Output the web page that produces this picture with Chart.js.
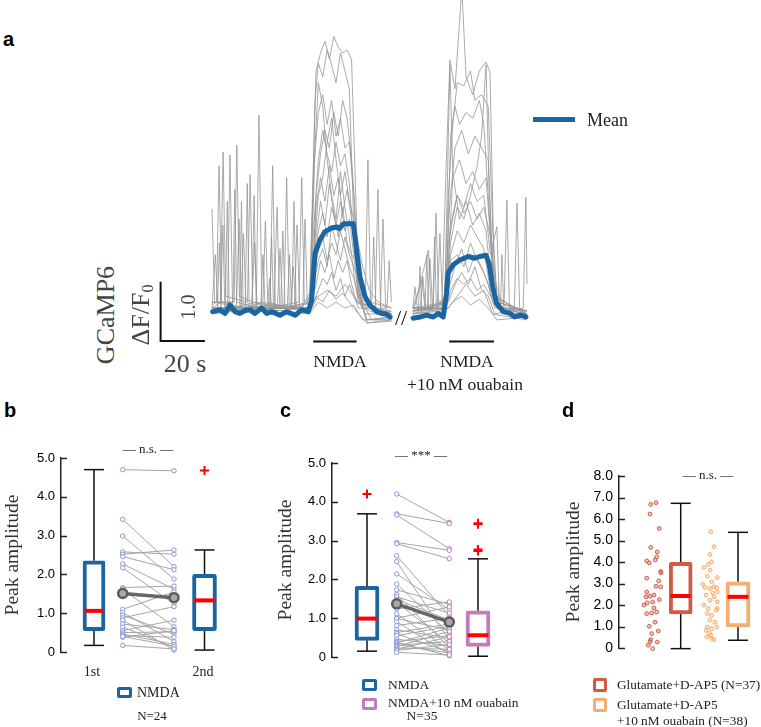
<!DOCTYPE html>
<html><head><meta charset="utf-8">
<script src="https://cdn.jsdelivr.net/npm/chart.js@4.4.0/dist/chart.umd.min.js"></script>
<style>
html,body{margin:0;padding:0;background:#fff;}
body{width:761px;height:727px;position:relative;overflow:hidden;}
canvas{position:absolute;}
.ico{position:absolute;box-sizing:border-box;background:#fff;border-radius:2px;}
</style></head><body>
<script>
// ---------------- DATA ----------------
// Panel a: GCaMP6 traces, [time (s), dF/F0] pairs. Segment 1 (NMDA), segment 2 (NMDA + ouabain, time from its own start)
const seg1Traces = [
 [0,0.1, 10,0.08, 20,0.15, 21.2,3.35, 22.5,0.2, 35,0.1, 44,0.2, 45.5,2.2, 47,4.1, 49,4.4, 51,4.6, 53,4.3, 55,4.68, 57,4.5, 59,4.4, 61,4.45, 63,4.3, 64.5,2.5, 66,0.6, 68,0.1, 75,0.0, 81,0.05],
 [0,0.15, 2,0.2, 3.2,2.5, 4.4,0.2, 15,0.1, 26.2,0.15, 27.4,2.5, 28.6,0.1, 40,0.1, 44.5,0.3, 46.5,3.6, 48,4.23, 50,4.0, 52,4.46, 54,4.2, 56,3.9, 58,4.4, 60,4.1, 62,3.8, 64,1.5, 66,0.3, 70,-0.1, 81,-0.05],
 [0,0.1, 3.8,0.2, 5.0,2.73, 6.2,0.3, 16,0.2, 17.2,2.35, 18.4,0.2, 30,0.1, 44,0.1, 46,2.5, 48,3.4, 50,3.7, 52,3.2, 54,3.6, 56,3.0, 58,3.3, 60,2.8, 62,2.9, 64,2.0, 66,0.5, 69,0.0, 81,0.0],
 [0,0.05, 7,0.1, 8.1,2.68, 9.3,0.1, 20,0.2, 32.5,0.1, 33.7,2.3, 34.9,0.1, 44,0.05, 46,1.5, 48,2.6, 50,3.1, 52,2.7, 54,2.4, 56,2.9, 58,2.5, 60,2.7, 62,2.2, 64,1.2, 66,0.4, 70,-0.15, 81,-0.1],
 [0,0.2, 10,0.2, 11.2,2.85, 12.4,0.3, 25,0.1, 39.3,0.2, 40.5,2.3, 41.7,0.2, 45,0.4, 47,1.8, 49,2.3, 51,1.9, 53,2.5, 55,2.0, 57,2.3, 59,1.7, 61,2.1, 63,1.6, 65,0.8, 67,0.2, 81,0.0],
 [0,1.77, 1.2,0.2, 14,0.1, 23,0.2, 24.1,1.57, 25.2,0.2, 35,0.1, 44,0.1, 46,0.8, 48,1.4, 50,1.7, 52,1.3, 54,1.8, 56,1.5, 58,1.9, 60,1.4, 62,1.6, 64,1.0, 66,0.3, 70,-0.1, 81,-0.05],
 [0,0.1, 13,0.1, 14.2,1.35, 15.4,0.1, 30,0.15, 44,0.1, 46,0.6, 48,1.1, 50,1.3, 52,0.9, 54,1.2, 56,1.0, 58,1.4, 60,1.1, 62,0.8, 64,0.6, 66,0.3, 69.2,0.2, 70.4,2.6, 71.6,0.2, 81,0.1],
 [0,0.05, 29.5,0.1, 30.7,1.1, 31.9,0.1, 44,0.1, 47,0.5, 49,0.9, 51,0.7, 53,1.0, 55,0.6, 57,0.9, 59,0.7, 61,0.9, 63,0.5, 66,0.1, 73.7,0.1, 74.9,2.1, 76.1,0.1, 81,0.0],
 [0,0.1, 35.5,0.1, 36.7,0.8, 37.9,0.1, 45,0.1, 48,0.4, 50,0.6, 52,0.5, 54,0.7, 56,0.4, 58,0.6, 60,0.3, 62,0.5, 65,0.2, 76,0.05, 77.2,1.6, 78.4,0.1, 81,0.0],
 [0,0.0, 11,0.05, 12.2,1.6, 13.4,0.05, 18,0.1, 19.2,1.2, 20.4,0.1, 44,0.0, 47,0.3, 50,0.2, 53,0.4, 56,0.25, 59,0.35, 62,0.2, 65,0.05, 70,-0.15, 81,-0.12],
 [0,0.05, 37.2,0.1, 38.4,1.5, 39.6,0.05, 45,0.05, 48,0.2, 52,0.1, 56,0.2, 60,0.1, 64,0.15, 68,-0.1, 81,-0.08],
 [0,0.1, 1.5,1.0, 2.7,0.1, 28,0.1, 29.4,1.8, 30.6,0.1, 44.5,0.2, 46.5,2.8, 48,3.9, 50,3.5, 52,2.6, 54,2.0, 56,1.6, 58,2.4, 60,1.8, 62,1.3, 64,0.7, 66,0.2, 81,0.0],
 [0,0.1, 6,0.1, 6.9,1.9, 7.8,0.1, 18,0.1, 19,2.0, 20,0.1, 31,0.1, 32,1.4, 33,0.1, 44,0.1, 46,1.0, 48,2.0, 50,2.3, 52,2.9, 54,3.3, 56,2.6, 58,2.0, 60,2.4, 62,1.9, 64,1.6, 66,1.2, 68,0.8, 71,0.4, 75,0.2, 81,0.1],
 [0,0.05, 4,0.1, 4.9,1.5, 5.8,0.1, 15,0.1, 15.9,2.2, 16.8,0.1, 26,0.1, 26.9,1.3, 27.8,0.1, 36,0.1, 37,1.9, 38,0.1, 45,0.2, 47,1.3, 49,1.9, 51,1.5, 53,2.2, 55,1.7, 57,1.3, 59,1.8, 61,1.2, 63,1.0, 65,0.9, 67,0.7, 70,0.3, 73,0.1, 81,0.0],
 [0,0.2, 9.5,0.2, 10.3,2.1, 11.1,0.2, 22,0.1, 23,1.0, 24,0.1, 41,0.1, 42,1.6, 43,0.2, 46,0.5, 48,0.9, 50,1.1, 52,0.8, 54,1.5, 56,1.2, 58,0.9, 60,1.3, 62,1.0, 64,0.8, 66,0.6, 68,0.4, 72,0.1, 81,0.05],
 [0,0.1, 2.5,0.1, 3.3,1.2, 4.1,0.1, 12.5,0.1, 13.3,1.9, 14.1,0.1, 34,0.1, 35,1.0, 36,0.1, 45,0.1, 47,2.0, 49,2.7, 51,3.1, 53,2.8, 55,3.4, 57,3.0, 59,3.6, 61,3.3, 63,2.6, 64.5,1.8, 66,0.7, 68,0.2, 72,-0.1, 81,-0.1],
 [0,0.05, 25,0.05, 26,0.6, 27,0.05, 45,0.1, 48,0.3, 52,0.4, 56,0.3, 60,0.5, 64,0.3, 68,0.1, 72,0.1, 73,1.3, 74,0.1, 79,0.1, 80,0.9, 81,0.2]
];
const seg2Traces = [
 [0,0.0, 13,0.05, 15,2.5, 16.7,4.28, 19,3.8, 22.1,5.5, 24,4.0, 27,3.7, 30,4.1, 33,4.25, 34.8,4.08, 36.5,1.0, 38,0.1, 51.5,0.0],
 [0,0.1, 0.9,0.46, 2,0.1, 14,0.1, 16,2.0, 18,3.2, 20,3.9, 23,3.85, 26,4.1, 28,3.6, 31,3.7, 34,3.5, 36,1.5, 38,0.2, 51.5,0.05],
 [0,0.05, 3.3,0.1, 4.5,0.63, 5.7,0.1, 14.5,0.2, 16.5,1.8, 19,2.8, 22,3.1, 25,2.7, 28,3.0, 31,2.8, 34,2.6, 36,0.9, 38.5,0.1, 51.5,-0.05],
 [0,0.1, 6.5,0.1, 7.7,0.94, 8.9,0.1, 15,0.3, 17,1.5, 20,2.0, 23,1.8, 26,2.2, 29,1.9, 32,2.0, 35,1.0, 37.9,1.47, 39,0.2, 51.5,0.0],
 [0,0.0, 9.2,0.1, 10.4,1.7, 11.6,0.2, 15,0.2, 17,1.0, 20,1.4, 23,1.2, 26,1.5, 29,1.3, 32,1.1, 35,0.4, 41.2,0.2, 42.4,1.92, 43.6,0.1, 51.5,0.05],
 [0,0.05, 11,0.1, 12.2,1.36, 13.4,0.1, 16,0.4, 19,0.8, 22,1.1, 25,0.7, 28,1.0, 31,0.8, 34,0.5, 37,0.1, 45.8,0.1, 47,1.87, 48.2,0.1, 51.5,0.0],
 [0,0.1, 4,0.57, 5.5,0.1, 16,0.2, 19,0.5, 22,0.7, 25,0.5, 28,0.8, 31,0.4, 34,0.3, 37,0.0, 49.8,0.1, 51,1.97, 51.5,0.5],
 [0,0.0, 7,1.08, 8.3,0.05, 16,0.1, 20,0.3, 24,0.5, 28,0.3, 32,0.4, 36,0.0, 51.5,-0.1],
 [0,0.05, 15,0.1, 18,2.3, 21,2.6, 24,2.2, 27,2.4, 30,2.1, 33,2.3, 35,1.3, 37,0.3, 51.5,0.0],
 [0,0.0, 16,0.1, 18,0.2, 22,0.3, 26,0.15, 30,0.25, 34,0.1, 38,-0.1, 51.5,-0.05],
 [0,0.05, 15,0.2, 17,1.2, 20,1.8, 23,1.6, 26,2.0, 29,2.5, 31,3.0, 33,4.2, 34.5,2.0, 36.5,0.4, 39,0.1, 51.5,0.05],
 [0,0.1, 14.4,0.2, 16.7,4.2, 18,2.4, 21,1.6, 24,1.9, 27,1.5, 30,1.7, 33,1.4, 36,0.3, 51.5,0.0],
 [0,0.1, 2.5,0.1, 3.2,0.8, 4,0.1, 14,0.1, 16,1.2, 18,1.6, 20,2.0, 23,1.7, 26,1.9, 29,1.6, 32,1.8, 35,1.3, 37,0.6, 39,0.3, 42,0.1, 51.5,0.05],
 [0,0.0, 5.5,0.1, 6.3,1.0, 7.1,0.05, 15,0.2, 17,0.9, 20,1.0, 23,0.8, 26,1.2, 29,0.9, 32,0.7, 34,0.5, 36,0.2, 38,0.1, 51.5,0.0],
 [0,0.05, 9,0.1, 9.8,1.3, 10.6,0.1, 15,0.2, 17,3.0, 19,3.5, 21,3.2, 24,3.4, 27,3.3, 30,3.6, 32,3.2, 34,2.0, 36,0.6, 38,0.2, 51.5,0.05],
 [0,0.1, 15,0.1, 17,0.4, 20,0.6, 23,0.5, 26,0.6, 29,0.4, 32,0.5, 35,0.3, 38,0.2, 39.5,0.1, 40.2,1.0, 41,0.1, 51.5,0.0]
];
const seg1Mean = [0.3,0.04, 3.6,0.07, 5.9,0.01, 8.1,0.15, 10.4,0.04, 12.6,0.01, 15,0.06, 17.2,0.07, 19.4,0.01, 22.4,0.1, 24.7,0.01, 27,0.04, 30.7,-0.02, 33.7,0.04, 37.5,-0.02, 40.5,0.07, 43.5,0.04, 45,0.24, 46.5,1.02, 48.8,1.25, 51,1.39, 54,1.45, 56.3,1.47, 57.5,1.44, 59.3,1.52, 63.8,1.52, 65.3,1.08, 66.8,0.63, 69.1,0.29, 71.3,0.15, 74.4,0.04, 76.6,0.01, 78.5,0.0, 80.4,-0.05];
const seg2Mean = [0.1,-0.07, 3.2,-0.05, 6.2,-0.02, 9.2,-0.05, 11.4,0.01, 13.7,-0.05, 15.2,0.35, 15.9,0.69, 18.2,0.83, 21.2,0.91, 25.0,0.97, 28.0,0.94, 30.2,0.97, 33.0,0.99, 34.4,0.85, 36.0,0.46, 37.8,0.18, 40.8,0.04, 43.8,0.01, 46.0,-0.05, 48.4,-0.02, 51.0,-0.05];
const nmdaWindow1 = [45.7, 65.3];   // s, segment 1
const nmdaWindow2 = [16.4, 36.6];   // s, segment 2
const scaleBarSeconds = 20;
const scaleBarDF = 1.0;

// Panel b: NMDA 1st vs 2nd (N=24)
const bFirst  = [4.70, 3.42, 2.99, 2.58, 2.52, 2.46, 2.27, 2.17, 1.66, 1.62, 1.10, 1.02, 0.95, 0.88, 0.82, 0.72, 0.64, 0.55, 0.50, 0.46, 0.42, 0.38, 0.40, 0.17];
const bSecond = [4.67, 2.20, 1.88, 2.52, 2.63, 2.12, 1.62, 1.24, 1.70, 0.65, 1.55, 0.27, 0.46, 1.17, 0.05, 0.58, 0.12, 0.82, 0.52, 0.20, 0.38, 0.55, 0.15, 0.08];
const bMeans = [1.51, 1.40];
const bBox1 = [0.17, 0.55, 1.06, 2.35, 4.70];   // min, q1, median, q3, max
const bBox2 = [0.05, 0.55, 1.33, 2.00, 2.63];
const bOutliers2 = [4.68];

// Panel c: NMDA vs NMDA + 10 nM ouabain (N=35)
const cNmda    = [4.20, 3.69, 3.66, 2.95, 2.92, 2.61, 2.46, 2.14, 1.88, 1.73, 1.61, 1.55, 1.48, 1.40, 1.24, 1.11, 1.00, 0.99, 0.91, 0.81, 0.70, 0.63, 0.60, 0.55, 0.46, 0.40, 0.38, 0.36, 0.32, 0.30, 0.27, 0.23, 0.20, 0.17, 0.12];
const cOuabain = [3.47, 3.44, 2.79, 2.75, 2.53, 1.06, 0.43, 1.22, 0.62, 1.36, 0.24, 1.13, 0.95, 0.36, 1.42, 0.18, 1.29, 0.70, 0.07, 1.00, 0.49, 0.85, 0.13, 0.79, 0.29, 0.55, 0.03, 0.75, 0.10, 0.40, 0.66, 0.20, 0.52, 0.32, 0.05];
const cMeans = [1.37, 0.90];
const cBox1 = [0.15, 0.43, 0.99, 1.82, 3.69];
const cBox2 = [0.02, 0.27, 0.56, 1.19, 2.53];
const cOutliers1 = [4.20];
const cOutliers2 = [3.45, 3.42, 2.77, 2.73];

// Panel d: Glutamate+D-AP5 (N=37) vs +10 nM ouabain (N=38)
const dGlu = [6.68, 6.76, 6.23, 5.56, 4.68, 4.47, 4.24, 4.05, 3.96, 4.09, 3.56, 3.25, 3.12, 2.87, 2.84, 2.61, 2.38, 2.41, 2.46, 2.10, 2.14, 2.25, 1.86, 1.60, 1.63, 1.68, 1.01, 0.79, 0.67, 0.39, 0.28, 0.13, -0.03, 3.50, 2.00, 0.30, 1.20];
const dGluJitter = [-1.3, 4, -2, 7.3, -1.3, 5.3, 4.7, -5.3, -2.7, 3.3, 8.7, -5.3, 6.7, 4, 8.7, -5.3, -6, -2, 2, -4.7, 0.7, 7.3, 2, -5.3, -0.3, 4.7, -2.7, 6.3, -0.3, -1.3, 5.3, -3.7, 0.7, 9, -8, -2, 3];
const dOua = [5.41, 4.71, 4.35, 4.01, 3.90, 3.75, 3.62, 3.34, 3.28, 2.97, 3.08, 2.81, 2.77, 2.84, 2.80, 2.56, 2.61, 2.46, 2.38, 2.22, 2.14, 1.84, 1.76, 1.84, 1.60, 1.52, 1.29, 0.98, 0.90, 0.98, 0.82, 0.70, 0.59, 0.51, 0.44, 0.39, 1.20, 2.00];
const dOuaJitter = [-0.3, 3, -1, 0.7, -2.7, -7, -1, -3.7, 6.3, -8.3, 0.7, -6, -1, 3, 5.7, 1.7, 6.3, -5, 3, -1, 6.3, -2.7, 5, 6.3, -3.7, 0.7, -1, -3.7, 0.7, 5.7, -5, -1.7, -0.3, -4.3, 0.7, 3, 4, -7];
const dBox1 = [-0.03, 1.58, 2.42, 3.98, 6.73];
const dBox2 = [0.36, 0.98, 2.38, 3.08, 5.38];

// ---------------- STYLE / HELPERS ----------------
const SANS = "'Liberation Sans', Arial, sans-serif";
const SERIF = "'Liberation Serif', 'Times New Roman', serif";
const BLUE = '#1a66a2', PINK = '#c27bbd', RED = '#ff0000';
const GLU = '#cf5b45', OUA = '#f5ae6e';
Chart.defaults.font.family = SANS;
Chart.defaults.animation = false;

function mkCanvas(x, y, w, h) {
  const c = document.createElement('canvas');
  c.width = w; c.height = h;
  c.style.left = x + 'px'; c.style.top = y + 'px';
  c.style.width = w + 'px'; c.style.height = h + 'px';
  document.body.appendChild(c);
  return c;
}
function txt(s, x, y, o = {}) {
  const d = document.createElement('div');
  d.innerHTML = s;
  d.style.cssText = `position:absolute;left:${x}px;top:${y}px;white-space:nowrap;line-height:1;` +
    `font-family:${o.family || SERIF};font-size:${o.size || 15}px;color:${o.color || '#333'};` +
    `font-weight:${o.weight || 'normal'};transform:translate(${o.anchor === 'left' ? '0' : '-50%'},-50%)${o.rot ? ' rotate(-90deg)' : ''};`;
  document.body.appendChild(d);
}
function icon(x, y, w, h, color) {
  const d = document.createElement('div');
  d.className = 'ico';
  d.style.cssText += `left:${x}px;top:${y}px;width:${w}px;height:${h}px;border:3px solid ${color};`;
  document.body.appendChild(d);
}
function pairsXY(arr, off = 0) {
  const out = [];
  for (let i = 0; i < arr.length; i += 2) out.push({ x: arr[i] + off, y: arr[i + 1] });
  return out;
}
const baseOpts = {
  responsive: false, animation: false, events: [],
  plugins: { legend: { display: false }, tooltip: { enabled: false } }
};

// ---------------- PANEL A ----------------
(function () {
  const SEG2 = 90.7;  // placement of second recording after the break
  const GRAY = 'rgba(150,150,150,0.8)';
  const ds = [];
  seg1Traces.forEach(t => ds.push({ type: 'line', data: pairsXY(t), borderColor: GRAY, borderWidth: 1, pointRadius: 0, tension: 0, order: 10 }));
  seg2Traces.forEach(t => ds.push({ type: 'line', data: pairsXY(t, SEG2), borderColor: GRAY, borderWidth: 1, pointRadius: 0, tension: 0, order: 10 }));
  [pairsXY(seg1Mean), pairsXY(seg2Mean, SEG2)].forEach(d => ds.push({ type: 'line', data: d, borderColor: BLUE, borderWidth: 5, pointRadius: 0, tension: 0, borderJoinStyle: 'round', borderCapStyle: 'round', order: 1 }));
  const sx = -23.2, sy = -0.455;
  ds.push({ type: 'line', data: [{ x: sx, y: sy + scaleBarDF }, { x: sx, y: sy }, { x: sx + scaleBarSeconds, y: sy }], borderColor: '#111', borderWidth: 2, pointRadius: 0, order: 0, clip: false });
  ds.push({ type: 'line', data: [{ x: nmdaWindow1[0], y: -0.464 }, { x: nmdaWindow1[1], y: -0.464 }], borderColor: '#111', borderWidth: 2, pointRadius: 0, order: 0, clip: false });
  ds.push({ type: 'line', data: [{ x: nmdaWindow2[0] + SEG2, y: -0.464 }, { x: nmdaWindow2[1] + SEG2, y: -0.464 }], borderColor: '#111', borderWidth: 2, pointRadius: 0, order: 0, clip: false });
  new Chart(mkCanvas(150, 0, 390, 400), {
    type: 'scatter', data: { datasets: ds },
    options: Object.assign({}, baseOpts, {
      layout: { padding: 0, autoPadding: false },
      scales: {
        x: { type: 'linear', display: false, offset: false, min: -27.99, max: 148.08 },
        y: { type: 'linear', display: false, min: -1.450, max: 5.295 }
      }
    })
  });
})();

// ---------------- BOX PANELS ----------------
const inwardTicks = {
  id: 'inwardTicks',
  afterDraw(chart) {
    const s = chart.scales.y, ctx = chart.ctx;
    ctx.save(); ctx.strokeStyle = '#222'; ctx.lineWidth = 1.5;
    s.ticks.forEach(t => {
      const y = Math.round(s.getPixelForValue(t.value)) + 0.5;
      ctx.beginPath(); ctx.moveTo(s.right, y); ctx.lineTo(s.right + 6, y); ctx.stroke();
    });
    ctx.restore();
  }
};
function boxChart(o) {
  const ds = [];
  if (o.pairs) {
    const p = o.pairs;
    p.left.forEach((v, i) => ds.push({ type: 'line', data: [{ x: p.xL, y: v }, { x: p.xR, y: p.right[i] }], borderColor: '#a5a5a5', borderWidth: 1, pointRadius: 0, order: 8, clip: false }));
    ds.push({ type: 'scatter', data: p.left.map(v => ({ x: p.xL, y: v })), pointRadius: 2.2, pointBorderWidth: 1, pointBorderColor: p.colorL, pointBackgroundColor: '#fff', order: 3, clip: false });
    ds.push({ type: 'scatter', data: p.right.map(v => ({ x: p.xR, y: v })), pointRadius: 2.2, pointBorderWidth: 1, pointBorderColor: p.colorR, pointBackgroundColor: '#fff', order: 3, clip: false });
    ds.push({ type: 'line', data: [{ x: p.xL, y: p.means[0] }, { x: p.xR, y: p.means[1] }], borderColor: '#666', borderWidth: 3.5, pointRadius: 4.5, pointBorderWidth: 2.5, pointBorderColor: '#5c5c5c', pointBackgroundColor: '#a8a8a8', order: 1, clip: false });
  }
  (o.groups || []).forEach(g => ds.push({ type: 'scatter', data: g.values.map((v, i) => ({ x: g.x + g.jitter[i], y: v })), pointRadius: 1.9, pointBorderWidth: 1, pointBorderColor: g.border, pointBackgroundColor: g.fill, order: 3, clip: false }));
  o.boxes.forEach(b => {
    const [mn, q1, md, q3, mx] = b.stats;
    ds.push({ type: 'line', data: [{ x: b.x, y: mx }, { x: b.x, y: q3 }], borderColor: '#111', borderWidth: 1.5, pointStyle: 'line', pointRadius: [b.cap, 0], pointBorderWidth: 1.5, pointBorderColor: '#111', order: 7, clip: false });
    ds.push({ type: 'line', data: [{ x: b.x, y: mn }, { x: b.x, y: q1 }], borderColor: '#111', borderWidth: 1.5, pointStyle: 'line', pointRadius: [b.cap, 0], pointBorderWidth: 1.5, pointBorderColor: '#111', order: 7, clip: false });
    ds.push({ type: 'bar', data: [{ x: b.x, y: [q1, q3] }], backgroundColor: '#fff', borderColor: b.color, borderWidth: 4, borderSkipped: false, borderRadius: 2, barThickness: b.w, grouped: false, order: 6 });
    ds.push({ type: 'scatter', data: [{ x: b.x, y: md }], pointStyle: 'line', pointRadius: b.w / 2 - 1.5, pointBorderWidth: 4, pointBorderColor: RED, order: 2, clip: false });
    if (b.outliers) ds.push({ type: 'scatter', data: b.outliers.map(v => ({ x: b.x, y: v })), pointStyle: 'cross', pointRadius: 4.5, pointBorderWidth: 2, pointBorderColor: RED, order: 2, clip: false });
  });
  const c = mkCanvas(o.left, o.top, o.width, o.height);
  new Chart(c, {
    type: 'scatter', data: { datasets: ds }, plugins: [inwardTicks],
    options: Object.assign({}, baseOpts, {
      layout: { padding: { top: o.padTop, bottom: o.padBottom, left: 0, right: 0 }, autoPadding: false },
      scales: {
        x: { type: 'linear', display: false, offset: false, min: 0, max: o.width - o.axisW },
        y: {
          type: 'linear', min: 0, max: o.yMax,
          afterFit(s) { s.width = o.axisW; },
          ticks: { stepSize: 1, callback: v => v === 0 ? '0' : v.toFixed(1), font: { size: o.tick, family: SANS }, color: '#000', padding: 6 },
          grid: { drawOnChartArea: false, drawTicks: false },
          border: { display: true, color: '#222', width: 1.5 },
          title: { display: true, text: 'Peak amplitude', font: { family: SERIF, size: 19.5 }, color: '#333', padding: { top: o.titlePad, bottom: 0 } }
        }
      }
    })
  });
}

// Panel b
boxChart({
  left: 0, top: 440, width: 240, height: 230, padTop: 18, padBottom: 18, axisW: 61, yMax: 5, tick: 13, titlePad: 1,
  pairs: { xL: 61.7, xR: 113, left: bFirst, right: bSecond, means: bMeans, colorL: '#8797cf', colorR: '#8797cf' },
  boxes: [
    { x: 33, stats: bBox1, color: BLUE, w: 22, cap: 10 },
    { x: 143.5, stats: bBox2, color: BLUE, w: 24, cap: 10, outliers: bOutliers2 }
  ]
});
// Panel c
boxChart({
  left: 270, top: 445, width: 240, height: 230, padTop: 18, padBottom: 18, axisW: 62, yMax: 5, tick: 13, titlePad: 4,
  pairs: { xL: 64.7, xR: 117.3, left: cNmda, right: cOuabain, means: cMeans, colorL: '#8797cf', colorR: PINK },
  boxes: [
    { x: 35, stats: cBox1, color: BLUE, w: 24, cap: 10, outliers: cOutliers1 },
    { x: 146, stats: cBox2, color: PINK, w: 24, cap: 10, outliers: cOutliers2 }
  ]
});
// Panel d
boxChart({
  left: 560, top: 458, width: 201, height: 208, padTop: 18, padBottom: 18, axisW: 59, yMax: 8, tick: 14, titlePad: 2,
  groups: [
    { x: 33, values: dGlu, jitter: dGluJitter, border: GLU, fill: 'rgba(207,91,69,0.35)' },
    { x: 92, values: dOua, jitter: dOuaJitter, border: OUA, fill: 'rgba(245,174,110,0.35)' }
  ],
  boxes: [
    { x: 61.7, stats: dBox1, color: GLU, w: 23, cap: 10 },
    { x: 119, stats: dBox2, color: OUA, w: 24, cap: 10 }
  ]
});

// ---------------- TEXT ----------------
txt('a', 3, 39, { family: SANS, weight: 'bold', size: 20, color: '#000', anchor: 'left' });
txt('b', 4, 410, { family: SANS, weight: 'bold', size: 20, color: '#000', anchor: 'left' });
txt('c', 280, 410, { family: SANS, weight: 'bold', size: 20, color: '#000', anchor: 'left' });
txt('d', 562, 410, { family: SANS, weight: 'bold', size: 20, color: '#000', anchor: 'left' });

// panel a legend + labels
(function () { const d = document.createElement('div'); d.style.cssText = `position:absolute;left:533px;top:117px;width:42px;height:5px;background:${BLUE};`; document.body.appendChild(d); })();
txt('Mean', 587, 120, { size: 18, color: '#222', anchor: 'left' });
txt('GCaMP6', 106, 315, { size: 26, color: '#444', rot: true });
txt('ΔF/F<sub style="font-size:16px;vertical-align:-4px">0</sub>', 142, 315, { size: 26, color: '#444', rot: true });
txt('1.0', 188, 307, { size: 20, color: '#444', rot: true });
txt('20 s', 185, 364, { size: 26, color: '#444' });
txt('NMDA', 340, 362, { size: 17.5, color: '#222' });
txt('NMDA', 467, 362, { size: 17.5, color: '#222' });
txt('+10 nM ouabain', 465, 385, { size: 17.5, color: '#222' });
txt('//', 401, 318, { size: 22, color: '#111' });

// panel b
txt('— n.s. —', 148, 448, { size: 13, color: '#222' });
txt('1st', 92, 672, { size: 14, color: '#222' });
txt('2nd', 203, 672, { size: 14, color: '#222' });
icon(117, 687, 15, 11, BLUE);
txt('NMDA', 137, 693, { size: 14, color: '#222', anchor: 'left' });
txt('N=24', 152, 715, { size: 13, color: '#222' });

// panel c
txt('— *** —', 421, 454, { size: 13, color: '#222' });
icon(362, 679, 15, 12, BLUE);
icon(362, 698, 15, 12, PINK);
txt('NMDA', 388, 685, { size: 13.5, color: '#222', anchor: 'left' });
txt('NMDA+10 nM ouabain', 388, 703, { size: 13.5, color: '#222', anchor: 'left' });
txt('N=35', 422, 716, { size: 13.5, color: '#222' });

// panel d
txt('— n.s. —', 708, 474, { size: 13, color: '#222' });
icon(593, 678, 14, 14, GLU);
icon(593, 698, 14, 14, OUA);
txt('Glutamate+D-AP5 (N=37)', 617, 685, { size: 13.3, color: '#222', anchor: 'left' });
txt('Glutamate+D-AP5', 617, 705, { size: 13.3, color: '#222', anchor: 'left' });
txt('+10 nM ouabain (N=38)', 617, 721, { size: 13.3, color: '#222', anchor: 'left' });
</script>
</body></html>
